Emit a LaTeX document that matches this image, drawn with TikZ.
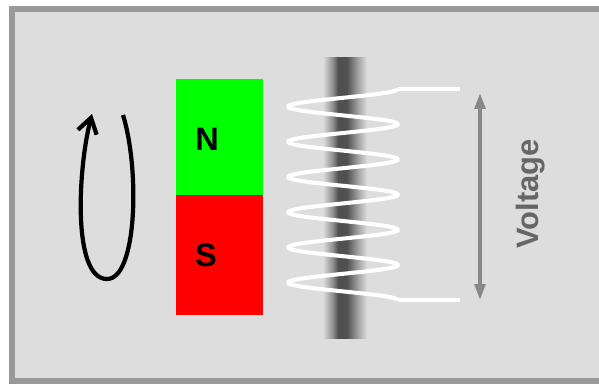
\documentclass[tikz,border=0pt]{standalone}
\usepackage{fontspec}
\setmainfont{Liberation Sans}
\usetikzlibrary{arrows.meta}

\definecolor{panelgray}{HTML}{DDDDDD}
\definecolor{framegray}{HTML}{999999}
\definecolor{arrowgray}{HTML}{888888}
\definecolor{labelgray}{HTML}{666666}
\definecolor{rodgray}{HTML}{505050}
\definecolor{northgreen}{RGB}{0,255,0}
\definecolor{southred}{RGB}{255,0,0}

% soft iron core, dark in the middle
\pgfdeclarehorizontalshading{ironcore}{100bp}{color(0bp)=(panelgray); color(25bp)=(panelgray);
  color(36bp)=(rodgray!55!panelgray); color(42bp)=(rodgray); color(52bp)=(rodgray);
  color(64bp)=(rodgray!45!panelgray); color(75bp)=(panelgray); color(100bp)=(panelgray)}

\begin{document}
\begin{tikzpicture}[x=0.02cm,y=-0.02cm,
    pole/.style={font=\fontsize{18.5}{21}\selectfont\bfseries},
    wire/.style={white,line width=2.3pt}]

    \useasboundingbox (0,0) rectangle (599,386);
    \clip (0,0) rectangle (599,386);
    \filldraw [fill=panelgray, draw=framegray, line width=3.4pt] (12,9) rectangle (640,381);

    % magnet
    \fill [color=northgreen] (176,79) rectangle (263,195);
    \fill [color=southred] (176,195) rectangle (263,315);
    \node [pole] (north) at (207,139.5) {N};
    \node [pole] (south) at (206,255.5) {S};

    % rotation
    \coordinate (spinstart) at (123,115);
    \coordinate (spinbottom) at (107,279);
    \coordinate (spinend) at (92,114);
    \draw [line width=2.4pt, -{Straight Barb[length=8.5pt,width=11pt]}] (spinstart)
        .. controls (140,170) and (137,279) .. (spinbottom)
        .. controls (72,279) and (78,168) .. (spinend);

    % core and coil (six turns, 35.2 apart)
    \shade [shading=ironcore] (323,57) rectangle (367,338);
    \draw [wire, line join=round] plot [domain=0:2160, samples=241, smooth]
        ({343+55*cos(\x)},{89+0.097778*\x});
    \coordinate (coiltop) at (398,89);
    \coordinate (coilbottom) at (398,300);
    \coordinate (leadtop) at (460,89);
    \coordinate (leadbottom) at (460,300);
    \draw [wire, line width=2pt] (coiltop)--(leadtop);
    \draw [wire, line width=2pt] (coilbottom)--(leadbottom);

    % voltage
    \coordinate (vtop) at (480,93);
    \coordinate (vbottom) at (480,300);
    \draw [arrowgray, line width=2pt, {Triangle[length=9pt,width=6pt]}-{Triangle[length=9pt,width=6pt]}] (vtop)--(vbottom);
    \node [font=\fontsize{17.6}{20}\selectfont\bfseries, text=labelgray, rotate=90] (volt) at (531,194) {Voltage};
\end{tikzpicture}
\end{document}
